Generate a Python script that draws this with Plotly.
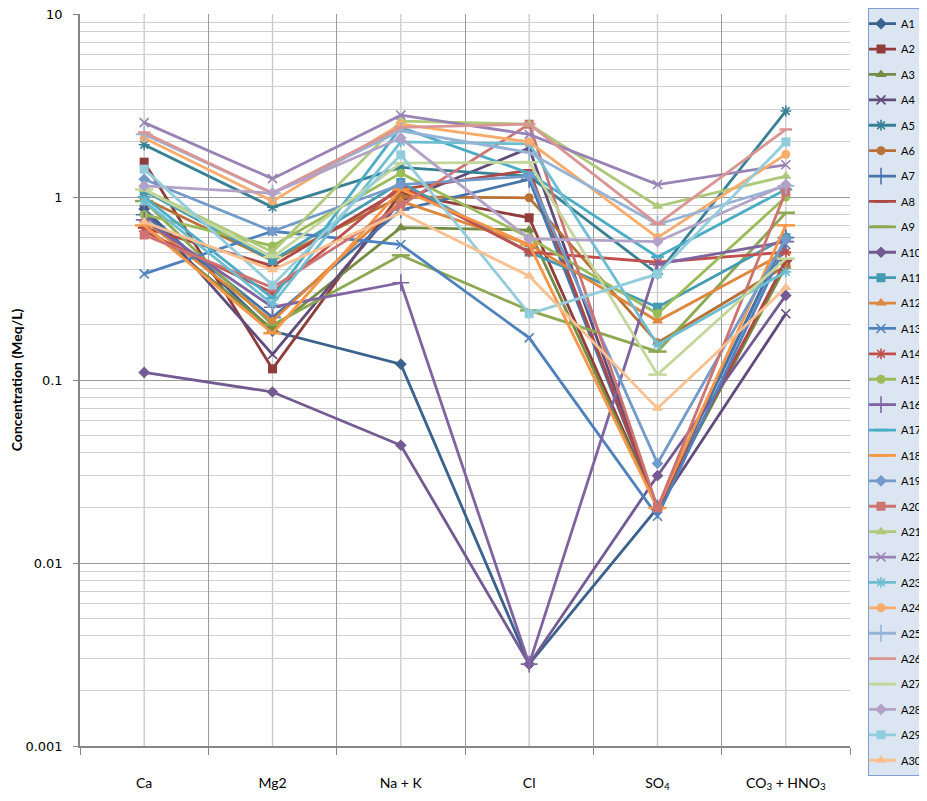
import plotly.graph_objects as go

categories = ["Ca", "Mg2", "Na + K", "Cl", "SO<sub>4</sub>", "CO<sub>3</sub> + HNO<sub>3</sub>"]

A1 = [0.86, 0.185, 0.122, 0.0028, 0.020, 0.60]
A2 = [1.55, 0.115, 1.05, 0.77, 0.020, 0.43]
A3 = [0.70, 0.19, 0.68, 0.66, 0.020, 0.42]
A4 = [0.85, 0.138, 0.95, 1.85, 0.020, 0.23]
A5 = [1.93, 0.88, 1.45, 1.30, 0.38, 2.95]
A6 = [0.98, 0.45, 1.00, 0.99, 0.16, 0.42]
A7 = [0.80, 0.22, 0.85, 1.25, 0.020, 0.60]
A8 = [0.68, 0.42, 1.10, 1.40, 0.020, 0.45]
A9 = [0.95, 0.20, 0.48, 0.24, 0.143, 0.82]
A10 = [0.11, 0.086, 0.044, 0.0028, 0.030, 0.29]
A11 = [1.08, 0.45, 1.20, 0.50, 0.25, 0.60]
A12 = [0.75, 0.21, 0.95, 0.55, 0.21, 0.50]
A13 = [0.38, 0.65, 0.55, 0.17, 0.018, 0.55]
A14 = [0.65, 0.30, 1.15, 0.50, 0.44, 0.50]
A15 = [0.80, 0.54, 1.35, 0.60, 0.23, 1.00]
A16 = [0.75, 0.25, 0.34, 0.0028, 0.43, 0.57]
A17 = [1.00, 0.28, 2.40, 1.35, 0.47, 1.10]
A18 = [0.70, 0.18, 1.10, 0.55, 0.020, 0.70]
A19 = [1.25, 0.65, 1.17, 1.30, 0.035, 0.59]
A20 = [0.62, 0.32, 0.90, 2.50, 0.020, 1.07]
A21 = [1.10, 0.50, 2.60, 2.50, 0.89, 1.30]
A22 = [2.55, 1.26, 2.80, 2.20, 1.17, 1.50]
A23 = [0.95, 0.26, 2.00, 1.95, 0.156, 0.39]
A24 = [2.10, 0.95, 2.50, 2.00, 0.60, 1.71]
A25 = [2.20, 1.05, 2.30, 1.75, 0.71, 1.15]
A26 = [2.25, 1.05, 2.40, 2.50, 0.71, 2.34]
A27 = [1.10, 0.47, 1.53, 1.55, 0.107, 0.46]
A28 = [1.15, 1.05, 2.10, 0.59, 0.57, 1.17]
A29 = [1.42, 0.33, 1.70, 0.23, 0.38, 2.00]
A30 = [0.73, 0.40, 0.82, 0.37, 0.070, 0.32]

series_names = ["A%d" % i for i in range(1, 31)]
series_values = [A1, A2, A3, A4, A5, A6, A7, A8, A9, A10, A11, A12, A13, A14, A15,
                 A16, A17, A18, A19, A20, A21, A22, A23, A24, A25, A26, A27, A28, A29, A30]

colors = [
    "#3B618E", "#903C3A", "#748C43", "#604B7A", "#388195", "#B97135",
    "#4774AA", "#AD4845", "#8CA850", "#735A92", "#449BB2", "#DE873F",
    "#4F81BD", "#C0504D", "#9BBB59", "#8064A2", "#4BACC6", "#F79646",
    "#729ACA", "#CD7371", "#AFC97A", "#9983B5", "#6FBDD1", "#F9AB6B",
    "#95B3D7", "#D99694", "#C3D69B", "#B3A2C7", "#93CDDD", "#FAC090",
]

# Excel marker cycle: diamond, square, triangle, x, star, circle, plus, dash, long dash
marker_cycle = [
    ("diamond", 9, 0),
    ("square", 9, 0),
    ("triangle-up", 10, 0),
    ("x-thin-open", 9, 1.6),
    ("asterisk-open", 9, 1.6),
    ("circle", 9, 0),
    ("cross-thin-open", 12, 1.6),
    ("line-ew-open", 9, 2.5),
    ("line-ew-open", 13, 2.5),
]

fig = go.Figure()
for i, (name, vals) in enumerate(zip(series_names, series_values)):
    sym, size, lw = marker_cycle[i % 9]
    c = colors[i]
    fig.add_trace(go.Scatter(
        x=categories, y=vals, name=name, mode="lines+markers",
        legendgroup=name,
        line=dict(color=c, width=2.8),
        marker=dict(symbol=sym, size=size, color=c,
                    line=dict(color=c, width=lw)),
    ))

# light vertical lines at category centres
for cat in categories:
    fig.add_shape(type="line", xref="x", yref="paper", x0=cat, x1=cat, y0=0, y1=1,
                  line=dict(color="#C8C8C8", width=1.3), layer="below")

minor_vals = [m * 10.0 ** e for e in range(-3, 1) for m in range(2, 10)]

fig.update_layout(
    width=927, height=801,
    margin=dict(l=72, r=85, t=6, b=63, autoexpand=False),
    paper_bgcolor="white", plot_bgcolor="white",
    font=dict(family="Lato, DejaVu Sans, sans-serif", color="#000000"),
    showlegend=True,
    legend=dict(
        x=1.0234, xanchor="left", y=1.008, yanchor="top",
        bgcolor="#DCE6F2", bordercolor="#7F9FCF", borderwidth=1,
        font=dict(family="Lato, sans-serif", size=11, color="#000000"),
        tracegroupgap=6.4, itemwidth=30, maxheight=790, indentation=-8,
    ),
    xaxis=dict(
        type="category", tickson="boundaries", automargin=False,
        showgrid=True, gridcolor="#9A9A9A", gridwidth=1.3,
        showline=True, linecolor="#868686", linewidth=1.5,
        ticks="outside", ticklen=7, tickcolor="#868686",
        tickfont=dict(family="Lato, sans-serif", size=14, color="#000000"),
        ticklabelstandoff=23, ticklabeloverflow="allow",
        range=[-0.5, 5.5],
    ),
    yaxis=dict(
        type="log", range=[-3, 1], automargin=False,
        tickvals=[0.001, 0.01, 0.1, 1, 10],
        ticktext=["0.001", "0.01", "0.1", "1", "10"],
        showgrid=True, gridcolor="#9A9A9A", gridwidth=1.3,
        showline=True, linecolor="#868686", linewidth=1.5,
        ticks="outside", ticklen=5, tickcolor="#868686",
        tickfont=dict(family="DejaVu Sans, sans-serif", size=13, color="#000000"),
        ticklabelstandoff=8, ticklabeloverflow="allow",
        minor=dict(tickvals=minor_vals, showgrid=True, gridcolor="#D0D0D0",
                   gridwidth=1.3, ticks=""),
        title=dict(text="<b>Concentration (Meq/L)</b>",
                   font=dict(family="Lato, sans-serif", size=14, color="#000000"),
                   standoff=8),
    ),
)

fig.write_html("out.html")
